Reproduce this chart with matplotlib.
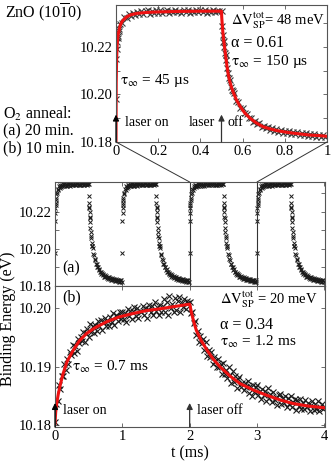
import numpy as np
import matplotlib.pyplot as plt
from matplotlib.patches import ConnectionPatch

plt.rcParams['font.family'] = ['Liberation Serif', 'DejaVu Serif']
plt.rcParams['mathtext.fontset'] = 'stix'

E0 = 10.18  # values below are meV above this

# one laser cycle (inset = 2..3 ms of panel a), markers on a 0.01 ms grid
cyc_mev = [18.0, 44.6, 49.6, 50.1, 52.5, 51.9, 53.7, 52.8, 54.3, 53.2,
           54.6, 53.6, 55.0, 53.8, 54.9, 55.3, 53.9, 54.8, 54.0, 55.2,
           54.3, 55.4, 54.1, 54.9, 55.5, 54.2, 55.1, 54.4, 55.6, 54.5,
           55.0, 54.2, 55.3, 54.7, 55.5, 54.3, 55.1, 54.6, 55.4, 54.4,
           55.2, 54.6, 55.5, 54.3, 55.0, 54.7, 55.6, 54.4, 55.1, 54.8,
           55.0, 42.6, 36.4, 29.0, 25.9, 21.8, 20.4, 17.3, 16.7, 14.3,
           14.1, 12.0, 11.8, 10.0, 10.2, 8.6, 8.9, 7.4, 7.8, 6.5,
           6.9, 5.7, 6.3, 5.1, 5.8, 4.7, 5.3, 4.3, 5.0, 3.9,
           4.7, 3.6, 4.5, 3.4, 4.3, 3.2, 4.0, 3.1, 3.8, 2.8,
           3.6, 2.6, 3.4, 2.5, 3.3, 2.3, 3.1, 2.2, 3.0, 2.1]
# extra samples on the steep edges
edge_t = [0.002, 0.004, 0.006, 0.008, 0.013, 0.016,
          0.503, 0.506, 0.509, 0.513, 0.517, 0.522, 0.526, 0.535, 0.545, 0.555]
edge_mev = [35.0, 39.2, 41.8, 43.5, 46.5, 47.6,
            48.5, 44.8, 42.0, 40.0, 37.2, 34.3, 31.0, 27.0, 23.2, 21.5]

# fit curve for the cycle (inset)
fit_a_t = [0, 0.001, 0.003, 0.006, 0.01, 0.02, 0.03, 0.05, 0.07, 0.1, 0.15, 0.2, 0.3, 0.4, 0.5,
           0.501, 0.503, 0.506, 0.51, 0.515, 0.52, 0.526, 0.532, 0.54, 0.548, 0.556, 0.57, 0.588,
           0.61, 0.635, 0.665, 0.697, 0.73, 0.762, 0.8, 0.84, 0.88, 0.919, 0.96, 1.0]
fit_a_mev = [0, 25, 35, 41.5, 45, 49, 50.8, 52.5, 53.4, 54.0, 54.4, 54.6, 54.8, 54.9, 54.9,
             52.5, 50.0, 46.5, 43.0, 39.5, 35.8, 31.8, 28.3, 25.2, 22.8, 20.8, 17.8, 15.0,
             12.2, 10.0, 8.0, 6.4, 5.5, 4.8, 4.2, 3.7, 3.3, 2.9, 2.7, 2.4]

# panel (b): markers every 0.02 ms from 0 to 3.98 ms
b_mev = [0.5, 3.7, 4.1, 6.8, 6.2, 8.5, 8.5, 10.5, 9.5, 11.3,
         10.4, 12.5, 12.0, 13.7, 12.4, 13.6, 12.7, 14.8, 14.0, 15.1,
         14.4, 16.0, 14.2, 15.8, 16.5, 15.1, 17.3, 16.0, 17.0, 15.7,
         17.1, 16.1, 17.9, 16.9, 18.0, 16.2, 17.7, 18.4, 17.0, 17.8,
         17.0, 18.5, 17.7, 19.2, 17.2, 18.8, 18.6, 17.8, 19.4, 18.2,
         19.4, 18.2, 19.1, 17.6, 19.9, 18.7, 19.6, 18.1, 19.5, 20.2,
         18.6, 20.0, 18.3, 19.6, 19.3, 20.3, 18.8, 20.0, 18.3, 19.8,
         20.6, 19.3, 20.3, 18.8, 21.0, 19.5, 20.2, 18.8, 20.6, 19.4,
         20.3, 21.6, 19.3, 21.0, 18.9, 22.1, 20.0, 20.8, 19.4, 21.7,
         19.7, 21.2, 21.9, 19.4, 20.9, 20.2, 21.6, 19.8, 21.2, 20.9,
         21.0, 19.1, 19.3, 17.4, 17.8, 15.4, 16.1, 14.2, 15.3, 14.1,
         14.7, 12.9, 14.2, 11.9, 12.8, 11.7, 12.5, 10.4, 11.7, 11.0,
         9.9, 11.3, 9.9, 10.5, 8.7, 10.6, 8.8, 9.4, 8.0, 9.9,
         8.6, 7.3, 9.2, 7.4, 8.4, 6.4, 7.9, 8.2, 6.5, 7.2,
         6.0, 7.3, 6.5, 7.6, 5.5, 6.7, 5.0, 6.9, 5.7, 6.6,
         6.8, 5.2, 5.9, 4.5, 6.2, 5.1, 5.8, 4.2, 6.3, 4.6,
         5.4, 4.0, 5.7, 4.4, 4.8, 3.4, 5.2, 5.4, 3.7, 4.7,
         3.8, 5.0, 3.2, 4.6, 3.7, 5.0, 3.1, 4.0, 4.5, 2.6,
         4.3, 3.3, 4.5, 2.7, 3.8, 2.8, 4.3, 3.1, 3.8, 2.4,
         3.5, 4.1, 2.6, 3.6, 2.7, 4.1, 2.4, 3.2, 3.6, 2.7]

fit_b_t = [0, 0.01, 0.025, 0.05, 0.08, 0.12, 0.18, 0.27, 0.36, 0.47, 0.6, 0.77, 0.95, 1.16,
           1.36, 1.56, 1.78, 2.0, 2.01, 2.03, 2.06, 2.1, 2.17, 2.26, 2.35, 2.45, 2.6, 2.75,
           2.95, 3.15, 3.35, 3.54, 3.75, 3.99]
fit_b_mev = [0.3, 2.2, 3.7, 5.4, 7.0, 8.8, 10.9, 12.8, 14.4, 15.7, 16.7, 17.7, 18.5, 19.1,
             19.6, 19.9, 20.3, 20.7, 20.2, 19.1, 17.7, 16.2, 14.5, 12.8, 11.3, 10.0, 8.4, 7.1,
             6.0, 5.1, 4.3, 3.7, 3.3, 3.0]

in_xticks = [0, 0.2, 0.4, 0.6, 0.8, 1]
in_xlabels = ['0', '0.2', '0.4', '0.6', '0.8', '1']
in_yticks = [10.18, 10.20, 10.22]
b_xticks = [0, 1, 2, 3, 4]
b_yticks = [10.18, 10.19, 10.20]

cyc_t = np.concatenate([np.arange(len(cyc_mev)) * 0.01, edge_t])
cyc_e = E0 + np.array(cyc_mev + edge_mev) / 1000.0
fit_a_e = E0 + np.array(fit_a_mev) / 1000.0
b_t = np.arange(len(b_mev)) * 0.02
b_e = E0 + np.array(b_mev) / 1000.0
fit_b_e = E0 + np.array(fit_b_mev) / 1000.0

W, H = 331, 463
fig = plt.figure(figsize=(W / 100, H / 100), dpi=100)
ax_in = fig.add_axes([116 / W, 1 - 142 / H, 211 / W, 137 / H])
ax_a = fig.add_axes([55 / W, 1 - 286 / H, 270 / W, 104 / H])
ax_b = fig.add_axes([55 / W, 1 - 427 / H, 270 / W, 141 / H])

edge = '#555555'
fs = 11.5
ann = 11
mk = dict(ls='none', marker='x', ms=3.5, mew=0.7, color='#1a1a1a')


def style(ax):
    for s in ax.spines.values():
        s.set_color(edge)
        s.set_linewidth(0.8)
    ax.tick_params(which='both', direction='in', top=True, right=True, length=3,
                   width=0.6, color=edge, labelsize=10.5, pad=2.5)


# inset
ax_in.plot(cyc_t, cyc_e, ls='none', marker='x', ms=4.5, mew=0.8, color='#3a3a3a')
ax_in.plot(fit_a_t, fit_a_e, color='#ee1111', lw=2.2)
ax_in.set_xlim(0, 1)
ax_in.set_ylim(10.18, 10.2375)
ax_in.set_xticks(in_xticks)
ax_in.set_xticklabels(in_xlabels)
ax_in.set_yticks(in_yticks)
ax_in.set_yticks([10.19, 10.21, 10.23], minor=True)
ax_in.set_yticklabels(['%.2f' % v for v in in_yticks])
style(ax_in)
arr = dict(arrowstyle='-|>', lw=0.9, mutation_scale=9, shrinkA=0, shrinkB=0)
ax_in.annotate('', xy=(0, 10.1915), xytext=(0, 10.18), arrowprops=dict(arr, color='k'))
ax_in.annotate('', xy=(0.5, 10.1915), xytext=(0.5, 10.18), arrowprops=dict(arr, color='#333333'))
ax_in.text(0.043, 0.139, 'laser on', transform=ax_in.transAxes, fontsize=10, va='center')
ax_in.text(0.47, 0.139, 'laser', transform=ax_in.transAxes, fontsize=10, va='center', ha='right')
ax_in.text(0.528, 0.139, 'off', transform=ax_in.transAxes, fontsize=10, va='center')
ax_in.text(0.02, 0.45, r'$\mathrm{\tau}_\infty$ = 45 µs', transform=ax_in.transAxes,
           fontsize=ann, va='center')
ax_in.text(0.545, 0.885, r'$\mathrm{\Delta V}^{\rm tot}_{\rm SP}$= 48 meV',
           transform=ax_in.transAxes, fontsize=10.5, va='center')
ax_in.text(0.545, 0.72, 'α = 0.61', transform=ax_in.transAxes, fontsize=ann + 0.5, va='center')
ax_in.text(0.545, 0.59, r'$\mathrm{\tau}_\infty$ = 150 µs', transform=ax_in.transAxes,
           fontsize=ann, va='center')

# panel (a): four cycles
for k in range(4):
    ax_a.plot(cyc_t + k, cyc_e, **mk)
ax_a.axvline(2, color='#333333', lw=0.8)
ax_a.axvline(3, color='#333333', lw=0.8)
ax_a.set_xlim(0, 4.01)
ax_a.set_ylim(10.18, 10.236)
ax_a.set_xticks(b_xticks)
ax_a.set_xticklabels([])
ax_a.set_yticks(in_yticks)
ax_a.set_yticks([10.19, 10.21, 10.23], minor=True)
ax_a.set_yticklabels(['%.2f' % v for v in in_yticks])
style(ax_a)
ax_a.text(0.026, 0.17, '(a)', transform=ax_a.transAxes, fontsize=fs, va='center')

# panel (b)
ax_b.plot(b_t, b_e, ls='none', marker='x', ms=4.5, mew=0.8, color='#1a1a1a')
ax_b.plot(fit_b_t, fit_b_e, color='#ee1111', lw=2.2)
ax_b.set_xlim(0, 4.01)
ax_b.set_ylim(10.1797, 10.2038)
ax_b.set_xticks(b_xticks)
ax_b.set_xticklabels([str(v) for v in b_xticks])
ax_b.set_yticks(b_yticks)
ax_b.set_yticklabels(['%.2f' % v for v in b_yticks])
style(ax_b)
ax_b.annotate('', xy=(0, 10.1838), xytext=(0, 10.1797), arrowprops=dict(arr, color='k'))
ax_b.annotate('', xy=(2, 10.1838), xytext=(2, 10.1797), arrowprops=dict(arr, color='#333333'))
ax_b.text(0.03, 0.12, 'laser on', transform=ax_b.transAxes, fontsize=10, va='center')
ax_b.text(0.526, 0.12, 'laser off', transform=ax_b.transAxes, fontsize=10, va='center')
ax_b.text(0.026, 0.92, '(b)', transform=ax_b.transAxes, fontsize=fs, va='center')
ax_b.text(0.61, 0.9, r'$\mathrm{\Delta V}^{\rm tot}_{\rm SP}$ = 20 meV',
          transform=ax_b.transAxes, fontsize=10.5, va='center')
ax_b.text(0.61, 0.72, 'α = 0.34', transform=ax_b.transAxes, fontsize=ann + 0.5, va='center')
ax_b.text(0.61, 0.6, r'$\mathrm{\tau}_\infty$ = 1.2 ms', transform=ax_b.transAxes,
          fontsize=ann, va='center')
ax_b.text(0.063, 0.425, r'$\mathrm{\tau}_\infty$ = 0.7 ms', transform=ax_b.transAxes,
          fontsize=ann, va='center')

# zoom connectors
for xa, xb in [(0, 2), (1, 3)]:
    con = ConnectionPatch(xyA=(xa, 0), coordsA=ax_in.transAxes,
                          xyB=(xb, 10.236), coordsB=ax_a.transData,
                          color='#333333', lw=0.7)
    fig.add_artist(con)

fig.text(5 / W, 1 - 13 / H, r'ZnO (10$\overline{1}$0)', fontsize=11.5, va='center')
fig.text(3 / W, 1 - 114 / H, r'O$_2$ anneal:', fontsize=fs, va='center')
fig.text(3 / W, 1 - 131 / H, '(a) 20 min.', fontsize=fs, va='center')
fig.text(3 / W, 1 - 148 / H, '(b) 10 min.', fontsize=fs, va='center')
fig.text(8 / W, 1 - 319 / H, 'Binding Energy (eV)', fontsize=fs, rotation=90,
         va='center', ha='center')
fig.text(190 / W, 1 - 453 / H, 't (ms)', fontsize=fs, va='center', ha='center')

fig.savefig('out.png', dpi=100)
